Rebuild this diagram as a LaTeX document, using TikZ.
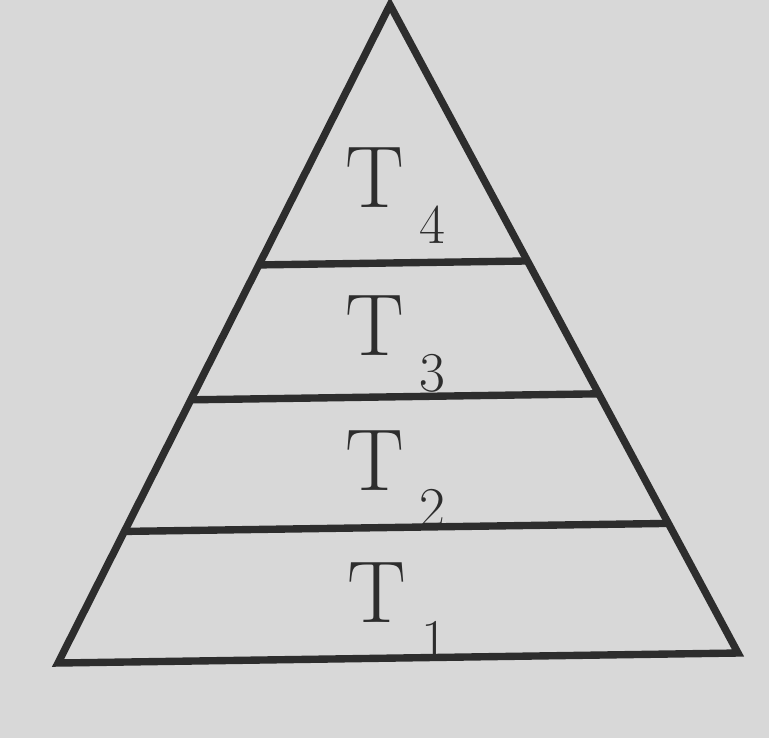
\documentclass[tikz,border=0pt]{standalone}
\usepackage{tikz}
\usetikzlibrary{calc, positioning}
\usepackage{xcolor}
\definecolor{paper}{RGB}{216,216,216}
\definecolor{ink}{RGB}{45,45,45}
\newcommand{\tsub}[1]{\raisebox{-10.5pt}{\fontsize{16}{16}\selectfont #1}}

\begin{document}
\begin{tikzpicture}[
  tier/.style={ink, line width=2.1pt},
  tierlabel/.style={anchor=base west, inner sep=0pt, text=ink, font=\fontsize{25}{30}\selectfont}
]
  \fill[paper] (0,0) rectangle (7.69,7.38);
  \useasboundingbox (0,0) rectangle (7.69,7.38);
  % outline of the pyramid
  \coordinate (apex) at (3.90,7.33);
  \coordinate (bl) at (0.58,0.75);
  \coordinate (br) at (7.38,0.85);
  \draw[tier, line join=miter] (bl) -- (apex) -- (br) -- cycle;
  % levels
  \foreach \f/\n in {0.395/a, 0.60/b, 0.80/c} {
    \coordinate (l\n) at ($(apex)!\f!(bl)$);
    \coordinate (r\n) at ($(apex)!\f!(br)$);
    \draw[tier] (l\n) -- (r\n);
  }
  \node[tierlabel] (t4) at (3.45,5.31) {T\,\tsub{4}};
  \node[tierlabel] (t3) at (3.45,3.83) {T\,\tsub{3}};
  \node[tierlabel] (t2) at (3.45,2.48) {T\,\tsub{2}};
  \node[tierlabel] (t1) at (3.47,1.16) {T\,\tsub{1}};
\end{tikzpicture}
\end{document}
